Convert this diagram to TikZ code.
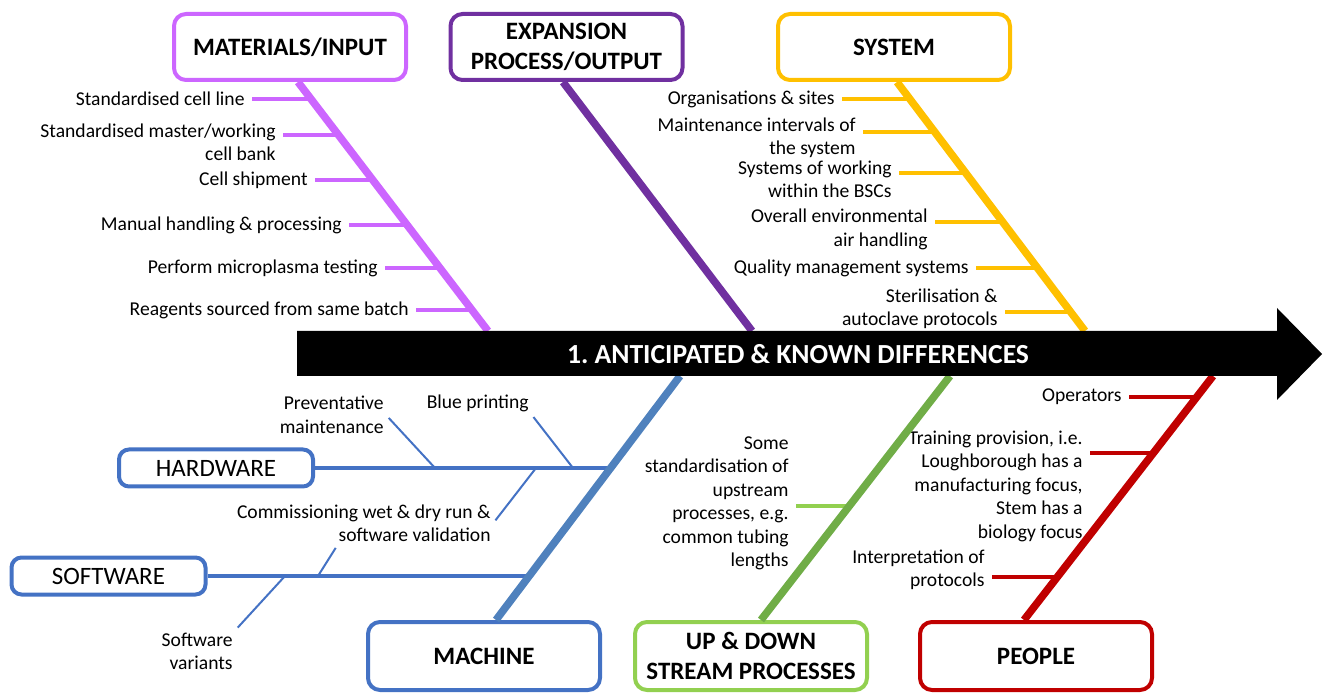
\documentclass[tikz,border=0pt]{standalone}
\usepackage{fontspec}
\setmainfont{Carlito}
\frenchspacing

\definecolor{matc}{HTML}{CC66FF}
\definecolor{expc}{HTML}{7030A0}
\definecolor{sysc}{HTML}{FFC000}
\definecolor{machc}{HTML}{4F81BD}
\definecolor{hwc}{HTML}{4472C4}
\definecolor{udc}{HTML}{70AD47}
\definecolor{udl}{HTML}{92D050}
\definecolor{pplc}{HTML}{C00000}

\begin{document}
\begin{tikzpicture}[x=0.5pt, y=-0.5pt,
  cat/.style={draw=#1, line width=2pt, rounded corners=6pt, fill=white,
    minimum width=116pt, minimum height=33pt, align=center,
    font=\fontsize{12.5}{15}\selectfont\bfseries},
  part/.style={draw=hwc, line width=2pt, rounded corners=5pt, fill=white,
    minimum width=97pt, minimum height=18.5pt, font=\fontsize{12.5}{15}\selectfont},
  lbl/.style={anchor=east, align=right, inner sep=1pt,
    font=\fontsize{9.8}{11.75}\selectfont},
  bone/.style={line width=3.8pt},
  rib/.style={line width=1.6pt, shorten <=2.5pt},
  twig/.style={line width=1pt, hwc, shorten <=2pt}]
  \useasboundingbox (0,0) rectangle (1324,695);

  % categories
  \node[cat=matc] (mat) at (290,47) {MATERIALS/INPUT};
  \node[cat=expc] (exp) at (566.5,47) {EXPANSION\\PROCESS/OUTPUT};
  \node[cat=sysc] (sys) at (894,47) {SYSTEM};
  \node[cat=hwc, minimum height=34pt] (mach) at (484,656) {MACHINE};
  \node[cat=udl, minimum height=34pt] (updown) at (751,656) {UP \& DOWN\\STREAM PROCESSES};
  \node[cat=pplc, minimum height=34pt] (ppl) at (1036,656) {PEOPLE};
  \node[part] (hw) at (216,468) {HARDWARE};
  \node[part] (sw) at (108.5,576) {SOFTWARE};

  % ends on the main arrow
  \coordinate (matend) at (488,331);
  \coordinate (expend) at (752,331);
  \coordinate (sysend) at (1085,331);
  \coordinate (machend) at (680,376);
  \coordinate (udend) at (950,376);
  \coordinate (pplend) at (1213,376);

  % materials/input
  \node[lbl] (m1t) at (247,99) {Standardised cell line};
  \node[lbl] (m2t) at (278,142.5) {Standardised master/working\\cell bank};
  \node[lbl] (m3t) at (310,180) {Cell shipment};
  \node[lbl] (m4t) at (344,225) {Manual handling \& processing};
  \node[lbl] (m5t) at (380,268) {Perform microplasma testing};
  \node[lbl] (m6t) at (411,310) {Reagents sourced from same batch};
  \coordinate (m1) at (311,99);
  \coordinate (m2) at (338,135);
  \coordinate (m3) at (373,180);
  \coordinate (m4) at (407,225);
  \coordinate (m5) at (440,268);
  \coordinate (m6) at (472,310);
  \draw[rib, matc] (m1 -| m1t.east) -- (m1);
  \draw[rib, matc] (m2 -| m2t.east) -- (m2);
  \draw[rib, matc] (m3 -| m3t.east) -- (m3);
  \draw[rib, matc] (m4 -| m4t.east) -- (m4);
  \draw[rib, matc] (m5 -| m5t.east) -- (m5);
  \draw[rib, matc] (m6 -| m6t.east) -- (m6);

  % system
  \node[lbl] (s1t) at (837,99) {Organisations \& sites};
  \node[lbl] (s2t) at (858,138) {Maintenance intervals of\\the system};
  \node[lbl] (s3t) at (894,179.5) {Systems of working\\within the BSCs};
  \node[lbl] (s4t) at (930,229.5) {Overall environmental\\air handling};
  \node[lbl] (s5t) at (971,268) {Quality management systems};
  \node[lbl] (s6t) at (1000,309) {Sterilisation \&\\autoclave protocols};
  \coordinate (s1) at (909,99);
  \coordinate (s2) at (934,132);
  \coordinate (s3) at (965,173);
  \coordinate (s4) at (1002,222);
  \coordinate (s5) at (1037,268);
  \coordinate (s6) at (1071,312);
  \draw[rib, sysc] (s1 -| s1t.east) -- (s1);
  \draw[rib, sysc] (s2 -| s2t.east) -- (s2);
  \draw[rib, sysc] (s3 -| s3t.east) -- (s3);
  \draw[rib, sysc] (s4 -| s4t.east) -- (s4);
  \draw[rib, sysc] (s5 -| s5t.east) -- (s5);
  \draw[rib, sysc] (s6 -| s6t.east) -- (s6);

  % machine: hardware and software
  \coordinate (hwend) at (611,468);
  \coordinate (swend) at (527,576);
  \draw[hwc, line width=2.2pt] (hw.east) -- (hwend);
  \draw[hwc, line width=2.2pt] (sw.east) -- (swend);
  \node[lbl] (prev) at (386,415) {Preventative\\maintenance};
  \node[lbl] (blue) at (531,403) {Blue printing};
  \node[lbl] (comm) at (493,523.5) {Commissioning wet \& dry run \&\\software validation};
  \node[lbl] (swvar) at (235,651.5) {Software\\variants};
  \coordinate (hwA) at (435,468);
  \coordinate (hwB) at (573,468);
  \coordinate (hwC) at (536,468);
  \coordinate (swA) at (318,576);
  \coordinate (swB) at (285,576);
  \draw[twig] (prev.east) -- (hwA);
  \draw[twig] (blue.south east) -- (hwB);
  \draw[twig] (comm.east) -- (hwC);
  \draw[twig] ([xshift=-13pt]comm.south) -- (swA);
  \draw[twig] (swvar.north east) -- (swB);

  % up & down stream
  \node[lbl] (ups) at (791,503.5) {Some\\standardisation of\\upstream\\processes, e.g.\\common tubing\\lengths};
  \coordinate (u1) at (849,506);
  \draw[rib, udl] (u1 -| ups.east) -- (u1);

  % people
  \node[lbl] (p1t) at (1124,397) {Operators};
  \node[lbl] (p2t) at (1085,486) {Training provision, i.e.\\Loughborough has a\\manufacturing focus,\\Stem has a\\biology focus};
  \node[lbl] (p3t) at (987,570) {Interpretation of\\protocols};
  \coordinate (p1) at (1197,397);
  \coordinate (p2) at (1153,453);
  \coordinate (p3) at (1057,577);
  \draw[rib, pplc] (p1 -| p1t.east) -- (p1);
  \draw[rib, pplc] (p2 -| p2t.east) -- (p2);
  \draw[rib, pplc] (p3 -| p3t.east) -- (p3);

  % bones
  \draw[bone, matc] ([xshift=4pt]mat.south) -- (matend);
  \draw[bone, expc] ([xshift=-1.75pt]exp.south) -- (expend);
  \draw[bone, sysc] ([xshift=1.5pt]sys.south) -- (sysend);
  \draw[bone, machc] (machend) -- ([xshift=6pt]mach.north);
  \draw[bone, udc] (udend) -- ([xshift=5pt]updown.north);
  \draw[bone, pplc] (pplend) -- ([xshift=-6pt]ppl.north);

  % main arrow
  \fill (297,331) -- (1277,331) -- (1277,308) -- (1322,354) -- (1277,400) -- (1277,376) -- (297,376) -- cycle;
  \node[text=white, font=\fontsize{13.8}{16}\selectfont\bfseries] (effect) at (798,354) {1. ANTICIPATED \& KNOWN DIFFERENCES};
\end{tikzpicture}
\end{document}
